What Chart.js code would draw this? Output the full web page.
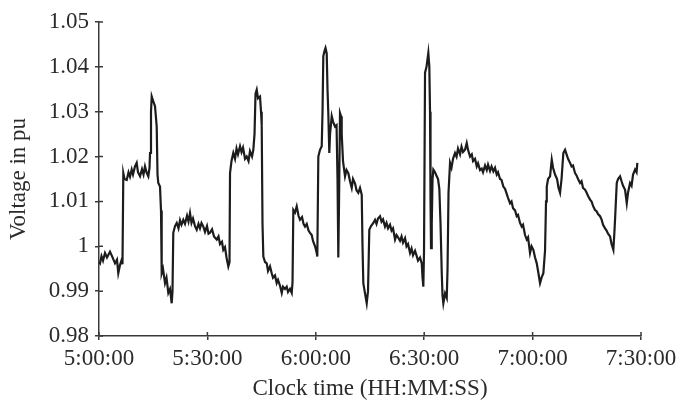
<!DOCTYPE html>
<html>
<head>
<meta charset="utf-8">
<script src="https://cdn.jsdelivr.net/npm/chart.js@4/dist/chart.umd.min.js"></script>
<style>
  html, body { margin: 0; padding: 0; background: #ffffff; }
  #wrap { width: 682px; height: 400px; }
</style>
</head>
<body>
<div id="wrap"><canvas id="c" width="682" height="400"></canvas></div>
<script>
// Time in minutes after 5:00:00
const timeMin = [
  0, 0.28, 0.69, 1.11, 1.66, 2.21, 3.04, 3.60, 4.43, 4.98, 5.34, 5.81, 6.28, 6.50,
  6.73, 7.06, 7.67, 8.17, 8.58, 9.05, 9.41, 9.96, 10.43, 10.79, 11.35, 11.90, 12.32, 12.73, 13.15, 13.65, 13.98,
  14.12, 14.39, 14.59, 14.95, 15.50, 15.97, 16.19, 16.41, 16.88, 17.16,
  17.35, 17.71, 18.27, 18.68, 19.18, 19.65, 20.12, 20.34,
  20.56, 21.04, 21.51, 22.00, 22.42, 22.83, 23.33, 23.80, 24.36, 24.77, 25.19, 25.60, 26.02, 26.57, 27.04, 27.54,
  27.95, 28.37, 28.87, 29.34, 29.89, 30.31, 30.72, 31.28, 31.83, 32.58, 33.07, 33.49, 34.04, 34.40, 34.87, 35.29, 35.79, 36.12,
  36.26, 36.67, 37.17, 37.64, 38.06, 38.47, 39.03, 39.44, 39.86, 40.41, 40.88, 41.38, 41.79, 42.35, 42.71,
  43.04, 43.32, 43.65, 44.01, 44.56, 44.84, 45.03, 45.25,
  45.48, 45.95, 46.42, 46.78, 47.33, 47.80, 48.16, 48.71, 49.18, 49.54, 50.10, 50.57, 50.93, 51.48, 51.95, 52.31, 52.86, 53.34, 53.56,
  53.78, 54.25, 54.72, 55.22, 55.63, 56.19, 56.60, 57.02, 57.49, 57.99, 58.40, 58.87, 59.23, 59.79, 60.26, 60.42,
  60.70, 61.17, 61.64, 61.86, 62.08, 62.41, 62.69, 63.02, 63.24, 63.46, 63.74, 63.94, 64.41, 64.77, 65.32, 65.74,
  66.01, 66.23, 66.43, 66.70, 66.98, 67.17, 67.53, 68.09, 68.50, 69.00, 69.47, 69.94, 70.30, 70.86, 71.27, 71.77, 72.24, 72.71,
  72.93, 73.15, 73.62, 74.09, 74.45,
  74.81, 75.28, 75.92, 76.39, 76.80, 77.22, 77.77, 78.19, 78.61, 79.16, 79.58, 79.99, 80.54, 80.96, 81.37, 81.93, 82.34, 82.76,
  83.31, 83.73, 84.14, 84.70, 85.11, 85.53, 86.08, 86.50, 86.91, 87.46, 87.93, 88.29, 88.85, 89.32, 89.54, 89.76,
  89.95, 90.23, 90.64, 91.14, 91.42, 91.61, 91.75, 91.89, 92.09, 92.31, 92.53, 93.00, 93.47, 93.83, 94.19, 94.52,
  94.86, 95.07, 95.30, 95.77, 96.24, 96.46, 96.73,
  97.15, 97.56, 97.98, 98.53, 98.95, 99.36, 99.92, 100.33, 100.75, 101.30, 101.77, 102.13, 102.69, 103.16, 103.52,
  104.07, 104.54, 104.90, 105.45, 105.92, 106.28, 106.84, 107.31, 107.67, 108.22, 108.64, 109.14, 109.60, 110.07, 110.43,
  110.99, 111.40, 111.90, 112.37, 112.79, 113.20, 113.76, 114.17, 114.59, 115.14, 115.61, 115.97, 116.52, 116.99, 117.35,
  117.91, 118.38, 118.74, 119.29, 119.71, 120.21, 120.68, 121.15, 121.51, 122.06, 122.48, 122.98, 123.44,
  123.72, 123.92, 124.28, 124.83, 125.30, 125.66, 126.21, 126.77, 127.18, 127.60, 128.01,
  128.51, 128.98, 129.40, 129.81, 130.36, 130.78, 131.19, 131.75, 132.16, 132.58, 133.13, 133.55, 133.96, 134.52, 134.93,
  135.35, 135.90, 136.32, 136.73, 137.28, 137.70, 138.11, 138.67, 139.08, 139.50, 140.05, 140.47, 140.88, 141.44, 141.85, 142.35,
  142.63, 142.82, 143.29, 143.65, 144.21, 144.62, 145.04, 145.59, 146.06, 146.42, 146.97, 147.39, 147.80, 148.36, 148.77, 148.99
];

// Voltage in pu
const voltPu = [
  0.9965, 0.9962, 0.9978, 0.9968, 0.9985, 0.9975, 0.9988, 0.9978, 0.9962, 0.9970, 0.9940, 0.9958, 0.9970, 0.9960,
  1.0163, 1.0150, 1.0148, 1.0165, 1.0155, 1.0171, 1.0160, 1.0178, 1.0186, 1.0165, 1.0156, 1.0172, 1.0160, 1.0178, 1.0165, 1.0156, 1.0175,
  1.0208, 1.0300, 1.0334, 1.0325, 1.0312, 1.0267, 1.0160, 1.0141, 1.0133, 1.0080,
  0.9940, 0.9950, 0.9918, 0.9930, 0.9896, 0.9905, 0.9873, 0.9900,
  1.0030, 1.0045, 1.0052, 1.0040, 1.0058, 1.0048, 1.0059, 1.0050, 1.0068, 1.0055, 1.0074, 1.0052, 1.0062, 1.0045, 1.0037, 1.0050,
  1.0040, 1.0052, 1.0044, 1.0032, 1.0045, 1.0028, 1.0030, 1.0038, 1.0022, 1.0015, 1.0022, 1.0005, 1.0010, 0.9992, 0.9998, 0.9975, 0.9955, 0.9965,
  1.0163, 1.0190, 1.0208, 1.0195, 1.0218, 1.0205, 1.0223, 1.0210, 1.0220, 1.0195, 1.0200, 1.0190, 1.0212, 1.0200, 1.0215,
  1.0250, 1.0340, 1.0349, 1.0330, 1.0334, 1.0300, 1.0270, 1.0050,
  0.9977, 0.9965, 0.9962, 0.9945, 0.9955, 0.9940, 0.9930, 0.9935, 0.9918, 0.9925, 0.9912, 0.9896, 0.9910, 0.9905, 0.9910, 0.9898, 0.9905, 0.9896, 0.9920,
  1.0081, 1.0075, 1.0089, 1.0068, 1.0059, 1.0065, 1.0050, 1.0044, 1.0050, 1.0035, 1.0030, 1.0025, 1.0012, 1.0000, 0.9985, 0.9977,
  1.0200, 1.0215, 1.0223, 1.0300, 1.0424, 1.0435, 1.0442, 1.0430, 1.0350, 1.0297, 1.0208, 1.0250, 1.0290, 1.0278, 1.0267, 1.0270,
  1.0150, 0.9975, 1.0100, 1.0297, 1.0290, 1.0250, 1.0190, 1.0156, 1.0170, 1.0163, 1.0145, 1.0130, 1.0150, 1.0140, 1.0125, 1.0119, 1.0130, 1.0115,
  1.0000, 0.9918, 0.9895, 0.9873, 0.9900,
  1.0037, 1.0045, 1.0052, 1.0059, 1.0050, 1.0062, 1.0067, 1.0055, 1.0060, 1.0044, 1.0052, 1.0040, 1.0048, 1.0035, 1.0040, 1.0015, 1.0025, 1.0020,
  1.0012, 1.0022, 1.0008, 1.0018, 1.0000, 1.0005, 0.9985, 0.9995, 0.9980, 0.9990, 0.9978, 0.9968, 0.9975, 0.9962, 0.9930, 0.9910,
  0.9990, 1.0387, 1.0400, 1.0431, 1.0400, 1.0300, 1.0100, 0.9996, 1.0050, 1.0150, 1.0171, 1.0165, 1.0156, 1.0150, 1.0128, 1.0050,
  0.9940, 0.9890, 0.9873, 0.9895, 0.9885, 0.9950, 1.0120,
  1.0186, 1.0175, 1.0195, 1.0208, 1.0200, 1.0218, 1.0205, 1.0222, 1.0210, 1.0215, 1.0230, 1.0215, 1.0200, 1.0205, 1.0190,
  1.0195, 1.0178, 1.0185, 1.0170, 1.0173, 1.0165, 1.0180, 1.0170, 1.0182, 1.0168, 1.0178, 1.0167, 1.0175, 1.0160, 1.0165,
  1.0150, 1.0148, 1.0133, 1.0128, 1.0118, 1.0108, 1.0096, 1.0100, 1.0085, 1.0080, 1.0067, 1.0070, 1.0052, 1.0044, 1.0048,
  1.0025, 1.0015, 1.0020, 0.9985, 1.0000, 0.9992, 0.9975, 0.9962, 0.9945, 0.9918, 0.9930, 0.9940, 0.9990,
  1.0100, 1.0133, 1.0150, 1.0156, 1.0193, 1.0175, 1.0160, 1.0150, 1.0130, 1.0119, 1.0150,
  1.0208, 1.0215, 1.0205, 1.0195, 1.0186, 1.0178, 1.0180, 1.0163, 1.0158, 1.0150, 1.0141, 1.0145, 1.0130, 1.0126, 1.0120,
  1.0112, 1.0104, 1.0100, 1.0090, 1.0081, 1.0078, 1.0072, 1.0067, 1.0060, 1.0048, 1.0040, 1.0035, 1.0028, 1.0022, 1.0005, 0.9992,
  1.0030, 1.0060, 1.0141, 1.0150, 1.0156, 1.0145, 1.0135, 1.0126, 1.0096, 1.0120, 1.0141, 1.0135, 1.0160, 1.0171, 1.0165, 1.0186
];

const xTickLabels = ['5:00:00', '5:30:00', '6:00:00', '6:30:00', '7:00:00', '7:30:00'];
const yTickLabels = ['0.98', '0.99', '1', '1.01', '1.02', '1.03', '1.04', '1.05'];
const xTitle = 'Clock time (HH:MM:SS)';
const yTitle = 'Voltage in pu';

const points = timeMin.map((t, i) => ({ x: t, y: voltPu[i] }));

const FONT = 'Liberation Serif, "Times New Roman", serif';
const INK = '#2b2b2b';
const AXIS = '#3a3a3a';

// Draw the inner half of each tick mark, so ticks cross the axis line
const crossTicks = {
  id: 'crossTicks',
  afterDraw(chart) {
    const ctx = chart.ctx;
    const xs = chart.scales.x, ys = chart.scales.y;
    const area = chart.chartArea;
    ctx.save();
    ctx.strokeStyle = AXIS;
    ctx.lineWidth = 1.5;
    ctx.beginPath();
    xs.ticks.forEach(t => {
      const px = xs.getPixelForValue(t.value);
      ctx.moveTo(px, area.bottom);
      ctx.lineTo(px, area.bottom - 4);
    });
    ys.ticks.forEach(t => {
      const py = ys.getPixelForValue(t.value);
      ctx.moveTo(area.left, py);
      ctx.lineTo(area.left + 4, py);
    });
    ctx.stroke();
    ctx.restore();
  }
};

new Chart(document.getElementById('c'), {
  type: 'line',
  data: {
    datasets: [{
      data: points,
      borderColor: '#1c1c1c',
      borderWidth: 2.2,
      pointRadius: 0,
      tension: 0,
      fill: false
    }]
  },
  options: {
    responsive: false,
    animation: false,
    devicePixelRatio: 1,
    layout: { padding: { left: 0, right: 41, top: 22, bottom: 0 } },
    plugins: { legend: { display: false }, tooltip: { enabled: false } },
    scales: {
      x: {
        type: 'linear',
        min: 0,
        max: 150,
        afterFit(scale) { scale.height = 64; },
        afterBuildTicks(scale) {
          scale.ticks = xTickLabels.map((_, i) => ({ value: i * 30 }));
        },
        ticks: {
          autoSkip: false,
          maxRotation: 0,
          padding: 5,
          color: INK,
          font: { family: FONT, size: 23 },
          callback: (v) => xTickLabels[Math.round(v / 30)]
        },
        grid: { display: true, drawOnChartArea: false, drawTicks: true, tickLength: 4, color: AXIS, lineWidth: 1.5 },
        border: { display: true, color: AXIS, width: 1.5 },
        title: {
          display: true,
          text: xTitle,
          color: INK,
          font: { family: FONT, size: 23, lineHeight: 1 },
          padding: { top: 0, bottom: 0 }
        }
      },
      y: {
        type: 'linear',
        min: 0.98,
        max: 1.05,
        afterFit(scale) { scale.width = 99; },
        afterBuildTicks(scale) {
          scale.ticks = yTickLabels.map(s => ({ value: parseFloat(s) }));
        },
        ticks: {
          padding: 6,
          color: INK,
          font: { family: FONT, size: 23 },
          callback: (v, i) => yTickLabels[i]
        },
        grid: { display: true, drawOnChartArea: false, drawTicks: true, tickLength: 4, color: AXIS, lineWidth: 1.5 },
        border: { display: true, color: AXIS, width: 1.5 },
        title: {
          display: true,
          text: yTitle,
          color: INK,
          font: { family: FONT, size: 23, lineHeight: 1.2 },
          padding: { top: 5, bottom: 0 }
        }
      }
    }
  },
  plugins: [crossTicks]
});
</script>
</body>
</html>
